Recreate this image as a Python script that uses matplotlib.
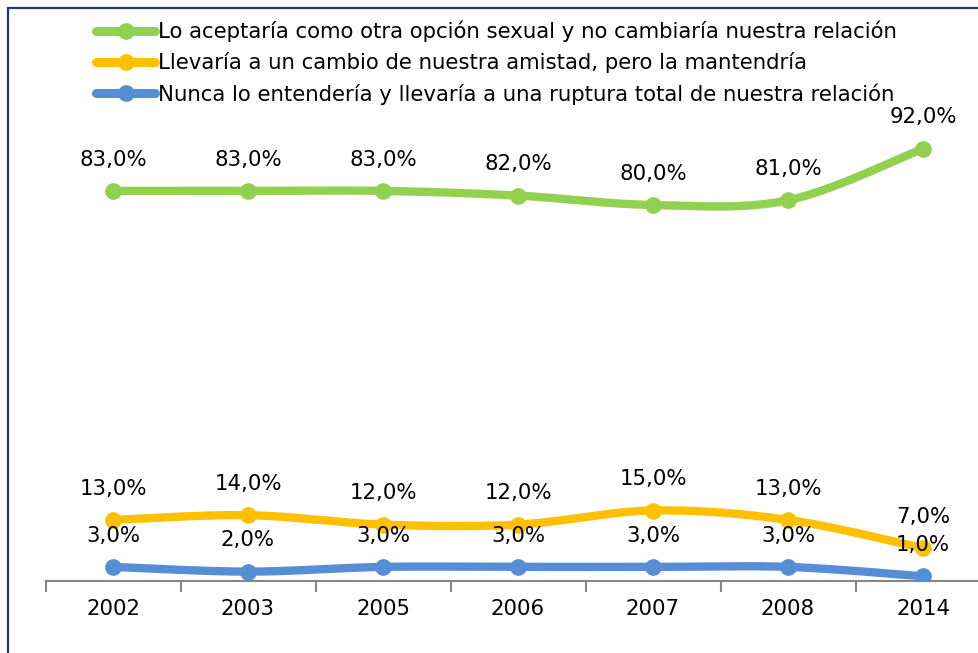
import matplotlib
matplotlib.use("Agg")
import matplotlib.pyplot as plt
import numpy as np
from matplotlib.patches import Rectangle

years = ["2002", "2003", "2005", "2006", "2007", "2008", "2014"]
acepta = [83, 83, 83, 82, 80, 81, 92]
cambio = [13, 14, 12, 12, 15, 13, 7]
ruptura = [3, 2, 3, 3, 3, 3, 1]
names = ["Lo aceptaría como otra opción sexual y no cambiaría nuestra relación",
         "Llevaría a un cambio de nuestra amistad, pero la mantendría",
         "Nunca lo entendería y llevaría a una ruptura total de nuestra relación"]
colors = ["#92D050", "#FFC000", "#558ED5"]

plt.rcParams['font.family'] = ['DejaVu Sans']
FS = 15.3


def smooth(x, y, n=30):
    # excel-like smoothed line: bezier segments, catmull-rom control points
    x = np.asarray(x, float)
    y = np.asarray(y, float)
    px = np.concatenate([[x[0]], x, [x[-1]]])
    py = np.concatenate([[y[0]], y, [y[-1]]])
    t = np.linspace(0, 1, n)[:, None]
    xs, ys = [], []
    for i in range(len(x) - 1):
        p0 = np.array([px[i + 1], py[i + 1]])
        p3 = np.array([px[i + 2], py[i + 2]])
        p1 = p0 + (p3 - np.array([px[i], py[i]])) / 6
        p2 = p3 - (np.array([px[i + 3], py[i + 3]]) - p0) / 6
        b = (1 - t) ** 3 * p0 + 3 * (1 - t) ** 2 * t * p1 + 3 * (1 - t) * t ** 2 * p2 + t ** 3 * p3
        xs.append(b[:, 0])
        ys.append(b[:, 1])
    return np.concatenate(xs), np.concatenate(ys)


fig = plt.figure(figsize=(9.79, 6.53), dpi=100)
W, H = 979, 653
ax = fig.add_axes([45.5 / W, (H - 581) / H, 945 / W, 470 / H])

xi = np.arange(len(years))
handles = []
for vals, col, name in zip([acepta, cambio, ruptura], colors, names):
    sx, sy = smooth(xi, vals)
    ax.plot(sx, sy, color=col, lw=6, solid_capstyle='round', zorder=3)
    ax.plot(xi, vals, 'o', color=col, ms=11, zorder=4)
    h, = ax.plot([], [], color=col, lw=6.5, marker='o', ms=11, solid_capstyle='round')
    handles.append(h)
    for x, v in zip(xi, vals):
        ax.annotate(f"{v},0%", (x, v), xytext=(0, 22.5), textcoords='offset points',
                    ha='center', va='center', fontsize=FS, zorder=5)

ax.set_xlim(-0.5, len(years) - 0.5)
ax.set_ylim(0, 100)
ax.set_yticks([])
for s in ['top', 'right', 'left']:
    ax.spines[s].set_visible(False)
ax.spines['bottom'].set_color('#868686')
ax.spines['bottom'].set_linewidth(1.5)
ax.set_xticks(xi)
ax.set_xticklabels(years, fontsize=FS)
ax.tick_params(axis='x', which='major', length=0, pad=13)
ax.set_xticks(np.arange(-0.5, len(years), 1), minor=True)
ax.tick_params(axis='x', which='minor', length=8, width=1.5, color='#868686')

fig.legend(handles, names, loc='upper left', bbox_to_anchor=(96 / W, 1 - 21 / H),
           frameon=False, fontsize=FS, handlelength=2.8, handletextpad=0.1,
           labelspacing=0.46, borderpad=0, borderaxespad=0)

fig.patches.append(Rectangle((8.5 / W, -0.1), 1.2, 1 - 8.5 / H + 0.1, transform=fig.transFigure,
                             fill=False, edgecolor='#1F3864', lw=1.6))

fig.savefig("out.png", dpi=100)
